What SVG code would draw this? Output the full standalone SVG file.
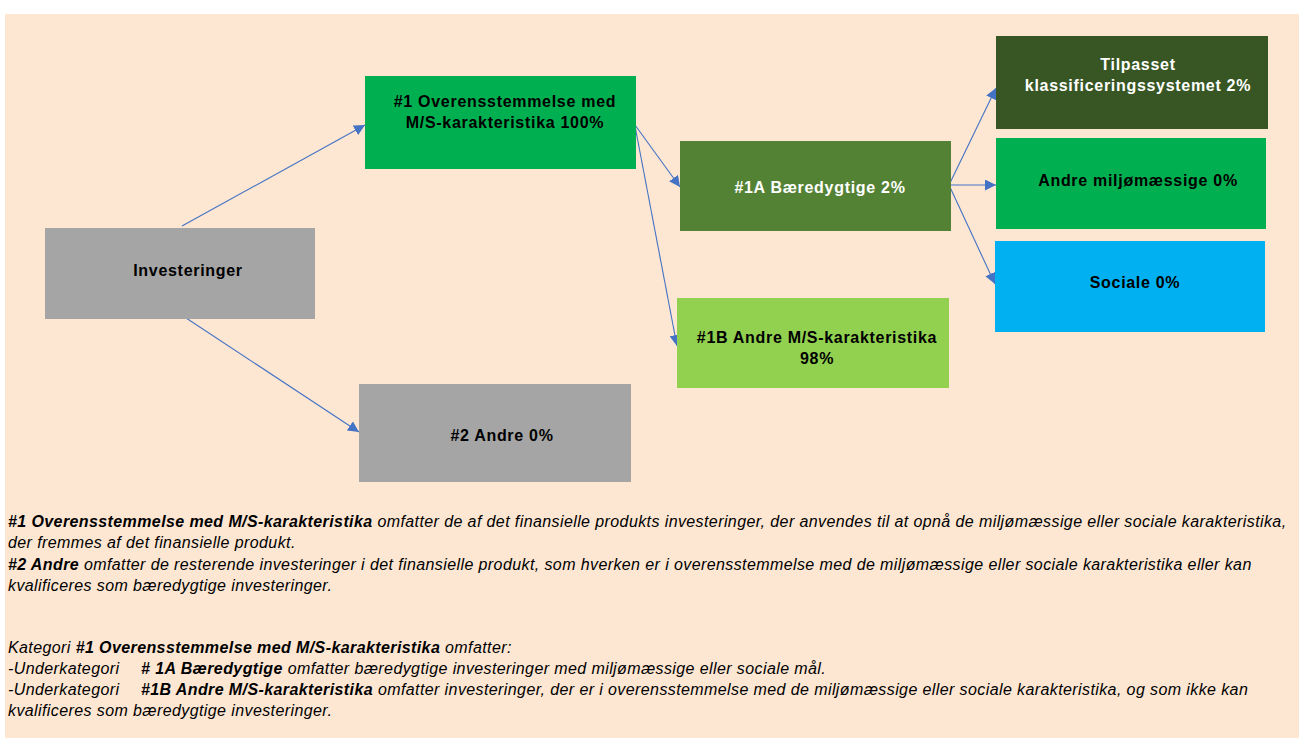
<svg xmlns="http://www.w3.org/2000/svg" width="1299" height="738" viewBox="0 0 1299 738">
<defs>
<marker id="arr" markerUnits="userSpaceOnUse" markerWidth="11" markerHeight="11" refX="11" refY="5.5" orient="auto">
<path d="M0,0 L11,5.5 L0,11 z" fill="#4472C4"/>
</marker>
<style>
.lbl{font-family:"Liberation Sans",Arial,sans-serif;font-size:16px;font-weight:bold;letter-spacing:0.7px;text-anchor:middle;fill:#000}
.w{fill:#fff}
.con{stroke:#4472C4;stroke-width:1.1;fill:none;marker-end:url(#arr)}
.note{font-family:"Liberation Sans",Arial,sans-serif;font-size:16px;font-style:italic;letter-spacing:0.4px;fill:#000}
.b{font-weight:bold}
</style>
</defs>
<rect x="5" y="14" width="1294" height="724" fill="#FDE7D3"/>
<g id="connectors">
<line class="con" x1="182" y1="226" x2="365" y2="125"/>
<line class="con" x1="180" y1="314" x2="359" y2="432"/>
<line class="con" x1="635" y1="125" x2="680" y2="187"/>
<line class="con" x1="635" y1="126" x2="677" y2="346"/>
<line class="con" x1="949" y1="185" x2="996" y2="88"/>
<line class="con" x1="949" y1="185" x2="996" y2="185"/>
<line class="con" x1="949" y1="185" x2="995" y2="284"/>
</g>
<g id="n-investeringer">
<rect x="45" y="228" width="270" height="91" fill="#A5A5A5"/>
<text class="lbl" x="188" y="276">Investeringer</text>
</g>
<g id="n-1">
<rect x="365" y="76" width="271" height="93" fill="#00B050"/>
<text class="lbl" x="505" y="107">#1 Overensstemmelse med</text>
<text class="lbl" x="505" y="128">M/S-karakteristika 100%</text>
</g>
<g id="n-1a">
<rect x="680" y="141" width="271" height="90" fill="#548235"/>
<text class="lbl w" x="820" y="193">#1A Bæredygtige 2%</text>
</g>
<g id="n-1b">
<rect x="677" y="298" width="272" height="90" fill="#92D050"/>
<text class="lbl" x="817" y="343">#1B Andre M/S-karakteristika</text>
<text class="lbl" x="817" y="364">98%</text>
</g>
<g id="n-2">
<rect x="359" y="384" width="272" height="98" fill="#A5A5A5"/>
<text class="lbl" x="502" y="441">#2 Andre 0%</text>
</g>
<g id="n-tilpasset">
<rect x="996" y="36" width="272" height="93" fill="#375623"/>
<text class="lbl w" x="1138" y="70">Tilpasset</text>
<text class="lbl w" x="1138" y="91">klassificeringssystemet 2%</text>
</g>
<g id="n-andre-miljo">
<rect x="996" y="138" width="270" height="91" fill="#00B050"/>
<text class="lbl" x="1138" y="186">Andre miljømæssige 0%</text>
</g>
<g id="n-sociale">
<rect x="995" y="241" width="270" height="91" fill="#00B0F0"/>
<text class="lbl" x="1135" y="288">Sociale 0%</text>
</g>
<g id="notes">
<text class="note" x="8" y="527"><tspan class="b">#1 Overensstemmelse med M/S-karakteristika</tspan> omfatter de af det finansielle produkts investeringer, der anvendes til at opnå de miljømæssige eller sociale karakteristika,</text>
<text class="note" x="8" y="548">der fremmes af det finansielle produkt.</text>
<text class="note" x="8" y="570"><tspan class="b">#2 Andre</tspan> omfatter de resterende investeringer i det finansielle produkt, som hverken er i overensstemmelse med de miljømæssige eller sociale karakteristika eller kan</text>
<text class="note" x="8" y="591">kvalificeres som bæredygtige investeringer.</text>
<text class="note" x="8" y="653">Kategori <tspan class="b">#1 Overensstemmelse med M/S-karakteristika</tspan> omfatter:</text>
<text class="note" x="8" y="674">-Underkategori<tspan class="b" x="141"># 1A Bæredygtige</tspan> omfatter bæredygtige investeringer med miljømæssige eller sociale mål.</text>
<text class="note" x="8" y="695">-Underkategori<tspan class="b" x="141">#1B Andre M/S-karakteristika</tspan> omfatter investeringer, der er i overensstemmelse med de miljømæssige eller sociale karakteristika, og som ikke kan</text>
<text class="note" x="8" y="716">kvalificeres som bæredygtige investeringer.</text>
</g>
</svg>
